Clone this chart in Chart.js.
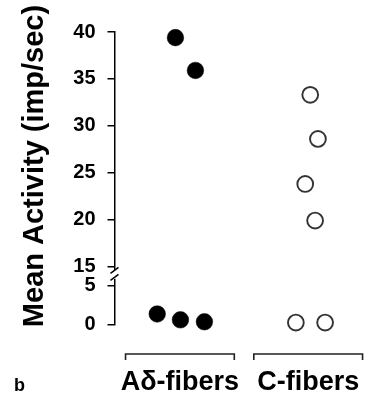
<!DOCTYPE html>
<html>
<head>
<meta charset="utf-8">
<script src="https://cdn.jsdelivr.net/npm/chart.js@4.4.0/dist/chart.umd.min.js"></script>
<style>
html, body { margin: 0; padding: 0; background: #fff; overflow: hidden; }
canvas { display: block; }
</style>
</head>
<body>
<canvas id="grafico" width="368" height="403"></canvas>
<script>
const categorias = ['A\u03b4-fibers', 'C-fibers']
const posCategorias = [1, 2]

// A-delta fibers (filled dots), x = group position with jitter
const aDeltaX = [0.965, 1.121, 0.823, 1.004, 1.191]
const aDeltaY = [39.4, 35.9, 1.35, 0.6, 0.35]

// C fibers (open dots)
const cFibraX = [2.016, 2.076, 1.977, 2.054, 1.904, 2.132]
const cFibraY = [33.3, 28.6, 23.8, 19.9, 0.25, 0.25]

const ticksCima = [15, 20, 25, 30, 35, 40]
const ticksBaixo = [0, 5]
const tituloY = 'Mean Activity (imp/sec)'
const letraPainel = 'b'

const FONTE = '"Liberation Sans", Arial, sans-serif'

function pontos(xs, ys, cima) {
    const lista = []
    xs.forEach((x, i) => {
        if ((ys[i] > 10) === cima) lista.push({ x: x, y: ys[i] })
    })
    return lista
}

function cheio(data, eixo) {
    return {
        data: data, yAxisID: eixo, clip: false,
        pointRadius: 8.3, pointHoverRadius: 8.3,
        pointBackgroundColor: '#000', pointBorderColor: '#000', pointBorderWidth: 0.5
    }
}

function vazio(data, eixo) {
    return {
        data: data, yAxisID: eixo, clip: false,
        pointRadius: 7.9, pointHoverRadius: 7.9,
        pointBackgroundColor: '#fff', pointBorderColor: '#333', pointBorderWidth: 1.9
    }
}

function eixoY(min, max, peso, ticks) {
    return {
        type: 'linear', position: 'left', stack: 'y', stackWeight: peso,
        min: min, max: max,
        afterBuildTicks: (s) => { s.ticks = ticks.map(v => ({ value: v })) },
        afterFit: (s) => { s.width = 114.5 },
        ticks: { color: '#000', padding: 12, font: { family: FONTE, size: 20, weight: 'bold' } },
        grid: { drawOnChartArea: false, tickLength: 7, color: '#000', lineWidth: 1.5 },
        border: { color: '#000', width: 1.5 }
    }
}

// break marks, brackets, axis title and panel letter
const extras = {
    id: 'extras',
    afterDraw(chart) {
        const ctx = chart.ctx
        const sx = chart.scales.x
        const ax = chart.scales.yTop.right
        const corteY = chart.scales.yTop.bottom
        ctx.save()
        ctx.fillStyle = '#fff'
        ctx.fillRect(ax - 4, corteY - 6, 8, 9)
        ctx.strokeStyle = '#000'
        ctx.lineWidth = 1.5
        ctx.beginPath()
        ctx.moveTo(ax - 4, corteY - 2.5); ctx.lineTo(ax + 4, corteY - 8.5)
        ctx.moveTo(ax - 4, corteY + 4.5); ctx.lineTo(ax + 4, corteY - 1.5)
        ctx.stroke()

        ctx.strokeStyle = '#222'
        ctx.lineWidth = 1.6
        posCategorias.forEach(v => {
            const a = sx.getPixelForValue(v - 0.424)
            const b = sx.getPixelForValue(v + 0.424)
            ctx.beginPath()
            ctx.moveTo(a, 360); ctx.lineTo(a, 354); ctx.lineTo(b, 354); ctx.lineTo(b, 360)
            ctx.stroke()
        })

        ctx.fillStyle = '#000'
        ctx.font = 'bold 29px ' + FONTE
        ctx.textAlign = 'center'
        ctx.textBaseline = 'alphabetic'
        ctx.translate(43, 166)
        ctx.rotate(-Math.PI / 2)
        ctx.fillText(tituloY, 0, 0)
        ctx.restore()

        ctx.save()
        ctx.fillStyle = '#000'
        ctx.font = 'bold 18px ' + FONTE
        ctx.textAlign = 'left'
        ctx.fillText(letraPainel, 14, 391)
        ctx.restore()
    }
}

const grafico = new Chart(document.getElementById('grafico'), {
    type: 'scatter',
    data: {
        datasets: [
            cheio(pontos(aDeltaX, aDeltaY, true), 'yTop'),
            cheio(pontos(aDeltaX, aDeltaY, false), 'yBot'),
            vazio(pontos(cFibraX, cFibraY, true), 'yTop'),
            vazio(pontos(cFibraX, cFibraY, false), 'yBot')
        ]
    },
    options: {
        responsive: false,
        animation: false,
        layout: { padding: { top: 32, right: 2.2, bottom: 0, left: 0 } },
        plugins: { legend: { display: false }, tooltip: { enabled: false } },
        scales: {
            x: {
                type: 'linear', position: 'bottom', min: 0.49, max: 2.39,
                afterBuildTicks: (s) => { s.ticks = posCategorias.map(v => ({ value: v })) },
                afterFit: (s) => {
                    s.height = 78.5
                    s.paddingLeft = 0
                    s.paddingRight = 0
                },
                ticks: {
                    color: '#000', padding: 0, maxRotation: 0, autoSkip: false,
                    font: { family: FONTE, size: 27, weight: 'bold' },
                    callback: (v) => categorias[posCategorias.indexOf(v)]
                },
                // invisible tick marks only push the labels down below the brackets
                grid: { display: true, drawOnChartArea: false, drawTicks: true, tickLength: 42, color: 'rgba(0,0,0,0)' },
                border: { display: false }
            },
            // stacked axes are laid out bottom-up, so the lower segment comes first
            yBot: eixoY(0, 6.23, 48.6, ticksBaixo),
            yTop: eixoY(14, 40, 243.9, ticksCima)
        }
    },
    plugins: [extras]
})
</script>
</body>
</html>
